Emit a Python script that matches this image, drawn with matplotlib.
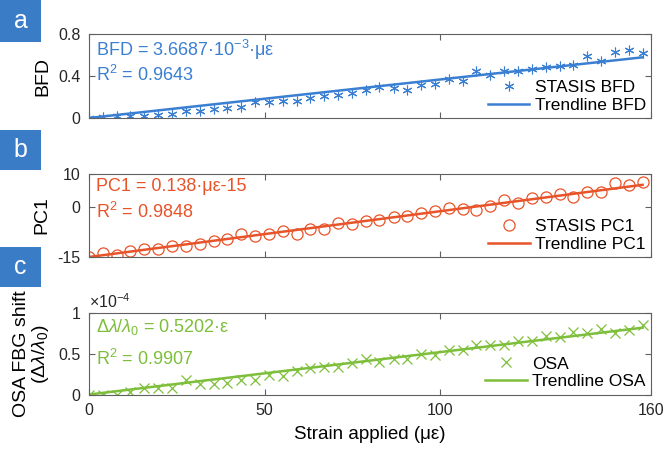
import matplotlib
matplotlib.use("Agg")
import matplotlib.pyplot as plt
from matplotlib.patches import Rectangle
import numpy as np

plt.rcParams['font.family'] = ['Liberation Sans', 'DejaVu Sans']
plt.rcParams['mathtext.fontset'] = 'custom'
plt.rcParams['mathtext.rm'] = 'Liberation Sans'
plt.rcParams['mathtext.it'] = 'Liberation Sans:italic'
plt.rcParams['mathtext.bf'] = 'Liberation Sans:bold'
plt.rcParams['axes.unicode_minus'] = False

strain = [0, 3.9, 7.9, 11.8, 15.8, 19.7, 23.6, 27.6, 31.5, 35.5, 39.4, 43.3, 47.3,
          51.2, 55.2, 59.1, 63.0, 67.0, 70.9, 74.9, 78.8, 82.7, 86.7, 90.6, 94.6,
          98.5, 102.4, 106.4, 110.3, 114.3, 118.2, 122.1, 126.1, 130.0, 134.0,
          137.9, 141.8, 145.8, 149.7, 153.7, 157.6]

bfd = [0.0, 0.006, 0.016, 0.016, 0.016, 0.032, 0.038, 0.063, 0.07, 0.089, 0.095,
       0.10, 0.152, 0.152, 0.165, 0.165, 0.19, 0.206, 0.216, 0.238, 0.27,
       0.292, 0.286, 0.27, 0.317, 0.324, 0.375, 0.349, 0.444, 0.413, 0.451,
       0.444, 0.47, 0.483, 0.492, 0.502, 0.587, 0.54, 0.629, 0.651, 0.619]

pc1 = [-15.0, -13.7, -14.3, -13.3, -12.7, -12.5, -11.8, -11.7, -11.0, -10.3, -9.7,
       -8.2, -8.8, -8.2, -7.3, -8.0, -6.5, -6.5, -4.9, -5.2, -4.1,
       -3.9, -2.9, -2.6, -1.6, -1.2, -0.2, -0.4, -0.7, 0.4, 2.1,
       1.4, 2.8, 3.1, 4.1, 3.1, 4.6, 4.6, 7.2, 6.7, 7.5]

# OSA FBG shift in units of 1e-4
osa_e4 = [0.0, 0.0, 0.0, 0.027, 0.084, 0.084, 0.076, 0.18, 0.126, 0.126, 0.138,
          0.18, 0.18, 0.24, 0.232, 0.29, 0.32, 0.34, 0.34, 0.385, 0.43,
          0.397, 0.438, 0.438, 0.496, 0.488, 0.55, 0.55, 0.603, 0.603, 0.603,
          0.66, 0.66, 0.714, 0.70, 0.768, 0.755, 0.81, 0.755, 0.796, 0.85]

bfd_slope = 3.6687e-3
pc1_slope, pc1_icpt = 0.138, -15
osa_slope_e4 = 0.5202e-2   # 0.5202e-6 per µε, expressed in 1e-4 units

xticks = [0, 50, 100, 160]
xticklabels = ['0', '50', '100', '160']

c_blue = '#3a7fd2'
c_red = '#e8542a'
c_green = '#7dbf3a'
box_col = '#3b7cc6'
tick_col = '#262626'
spine_col = '#606060'

x = np.array(strain)

fig = plt.figure(figsize=(6.66, 4.5), dpi=100)
L, R = 0.1336, 0.9775
axa = fig.add_axes([L, 0.7378, R - L, 0.9244 - 0.7378])
axb = fig.add_axes([L, 0.4289, R - L, 0.6133 - 0.4289])
axc = fig.add_axes([L, 0.1233, R - L, 0.3044 - 0.1233])

axa.plot(x, bfd, linestyle='none', marker=(6, 2, 0), color=c_blue, ms=7, mew=0.8,
         label='STASIS BFD')
axa.plot(x, bfd_slope * x, color=c_blue, lw=1.8, label='Trendline BFD')
axa.set_ylim(0, 0.8)
axa.set_yticks([0, 0.4, 0.8])
axa.set_yticklabels(['0', '0.4', '0.8'])
axa.set_ylabel('BFD', fontsize=14, labelpad=5)
axa.text(0.013, 0.74, 'BFD = 3.6687·10$^{-3}$·με', transform=axa.transAxes,
         color=c_blue, fontsize=13, va='baseline')
axa.text(0.013, 0.44, 'R$^2$ = 0.9643', transform=axa.transAxes,
         color=c_blue, fontsize=13, va='baseline')

axb.plot(x, pc1, linestyle='none', marker='o', color=c_red, ms=8, mew=0.9,
         fillstyle='none', label='STASIS PC1')
axb.plot(x, pc1_slope * x + pc1_icpt, color=c_red, lw=1.8, label='Trendline PC1')
axb.set_ylim(-15, 10)
axb.set_yticks([-15, 0, 10])
axb.set_yticklabels(['-15', '0', '10'])
axb.set_ylabel('PC1', fontsize=14, labelpad=5)
axb.text(0.013, 0.79, 'PC1 = 0.138·με-15', transform=axb.transAxes,
         color=c_red, fontsize=13, va='baseline')
axb.text(0.013, 0.47, 'R$^2$ = 0.9848', transform=axb.transAxes,
         color=c_red, fontsize=13, va='baseline')

axc.plot(x, osa_e4, linestyle='none', marker='x', color=c_green, ms=7, mew=0.9,
         label='OSA')
axc.plot(x, osa_slope_e4 * x, color=c_green, lw=1.8, label='Trendline OSA')
axc.set_ylim(0, 1)
axc.set_yticks([0, 0.5, 1])
axc.set_yticklabels(['0', '0.5', '1'])
axc.text(0.0, 1.02, '×10$^{-4}$', transform=axc.transAxes, fontsize=11.5,
         color=tick_col, ha='left', va='bottom')
axc.set_ylabel('OSA FBG shift\n($\\Delta\\lambda/\\lambda_0$)', fontsize=14, labelpad=5,
               linespacing=1.0)
axc.text(0.013, 0.77, '$\\Delta\\lambda/\\lambda_0$ = 0.5202·ε', transform=axc.transAxes,
         color=c_green, fontsize=13, va='baseline')
axc.text(0.013, 0.36, 'R$^2$ = 0.9907', transform=axc.transAxes,
         color=c_green, fontsize=13, va='baseline')
axc.set_xlabel('Strain applied (με)', fontsize=13.5, labelpad=6)

for ax in (axa, axb, axc):
    ax.set_xlim(0, 160)
    ax.set_xticks(xticks)
    ax.set_xticklabels(xticklabels)
    ax.tick_params(direction='in', top=True, right=True, length=4, width=0.8,
                   labelsize=11.5, colors=tick_col, pad=6)
    ax.tick_params(color=spine_col)
    for s in ax.spines.values():
        s.set_color(spine_col)
        s.set_linewidth(0.8)
    ax.legend(loc='lower right', frameon=False, fontsize=12.5, handlelength=2.4,
              borderaxespad=0.1, handletextpad=0.3, labelspacing=0.15,
              borderpad=0.2)
for ax in (axa, axb):
    ax.tick_params(labelbottom=False)

for lab, y0, y1 in (('a', 0.9067, 1.0), ('b', 0.6222, 0.7111), ('c', 0.3622, 0.4511)):
    fig.patches.append(Rectangle((0, y0), 0.0616, y1 - y0, transform=fig.transFigure,
                                 facecolor=box_col, edgecolor='none'))
    fig.text(0.0308, (y0 + y1) / 2, lab, color='white', fontsize=18,
             ha='center', va='center')

fig.savefig('out.png', dpi=100)
